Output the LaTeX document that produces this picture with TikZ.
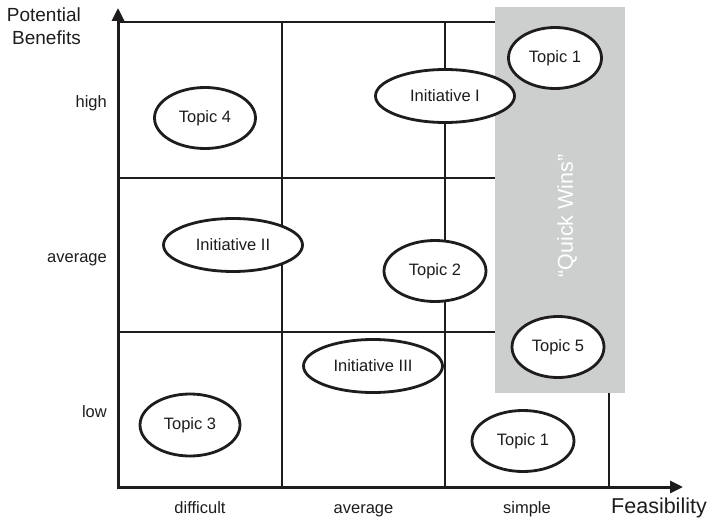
\documentclass[tikz,border=0pt]{standalone}
\usepackage{fontspec}
\setmainfont{Liberation Sans}
\usetikzlibrary{shapes.geometric,arrows.meta}
\definecolor{boxgray}{RGB}{205,207,207}
\definecolor{ink}{RGB}{30,28,28}
\begin{document}
\begin{tikzpicture}[x=1pt,y=-1pt,
  bubble/.style={ellipse,draw=ink,line width=2.8pt,fill=white,inner sep=0pt,
    font=\fontsize{16.5}{19}\selectfont,text=ink},
  topic/.style={bubble,minimum width=102pt,minimum height=61pt},
  initiative/.style={bubble,minimum width=139pt,minimum height=53pt},
  gridline/.style={draw=ink,line width=1.2pt},
  axis/.style={draw=ink,line width=3pt,line join=miter,
    {Triangle[length=13pt,width=12pt]}-{Triangle[length=13pt,width=12pt]}},
  ticklabel/.style={font=\fontsize{16.5}{19}\selectfont,text=ink,inner sep=0pt},
  axislabel/.style={font=\fontsize{21.5}{24}\selectfont,text=ink,inner sep=0pt}]
\useasboundingbox (0,0) rectangle (709,519);

% grid of the 3x3 matrix
\draw[gridline] (118,22) -- (609,22) -- (609,487);
\draw[gridline] (118,178) -- (609,178);
\draw[gridline] (118,332) -- (609,332);
\draw[gridline] (282,22) -- (282,487);
\draw[gridline] (445,22) -- (445,487);

% axes
\coordinate (origin) at (118,487);
\coordinate (ytip) at (118,8);
\coordinate (xtip) at (683,487);
\draw[axis] (ytip) -- (origin) -- (xtip);

% axis titles
\node[font=\fontsize{19}{23}\selectfont,text=ink,anchor=base east,inner sep=0pt]
  (ytitle1) at (81,22) {Potential};
\node[font=\fontsize{19}{23}\selectfont,text=ink,anchor=base east,inner sep=0pt]
  (ytitle2) at (81,45) {Benefits};
\node[axislabel,anchor=base west] (xtitle) at (611,513) {Feasibility};

% row labels
\node[ticklabel,anchor=base east] (high) at (107,107) {high};
\node[ticklabel,anchor=base east] (avgrow) at (107,262) {average};
\node[ticklabel,anchor=base east] (low) at (107,417) {low};

% column labels
\node[ticklabel,anchor=base] (difficult) at (200,513) {difficult};
\node[ticklabel,anchor=base] (avgcol) at (363.5,513) {average};
\node[ticklabel,anchor=base] (simple) at (527,513) {simple};

% quick wins band
\fill[boxgray] (495,7) rectangle (625,393);
\node[axislabel,text=white,rotate=90] (quick) at (567,216) {“Quick Wins”};

% topics and initiatives
\node[topic,minimum width=101pt] (t4) at (205,118) {Topic 4};
\node[initiative] (i1) at (445,96) {Initiative I};
\node[topic,minimum width=93pt] (t1a) at (555,58) {Topic 1};
\node[initiative] (i2) at (233,245) {Initiative II};
\node[topic] (t2) at (435,271) {Topic 2};
\node[topic,minimum width=92pt] (t5) at (558,347) {Topic 5};
\node[initiative] (i3) at (373,366) {Initiative III};
\node[topic,minimum width=100pt,minimum height=62pt] (t3) at (190,425) {Topic 3};
\node[topic] (t1b) at (523,441) {Topic 1};
\end{tikzpicture}
\end{document}
